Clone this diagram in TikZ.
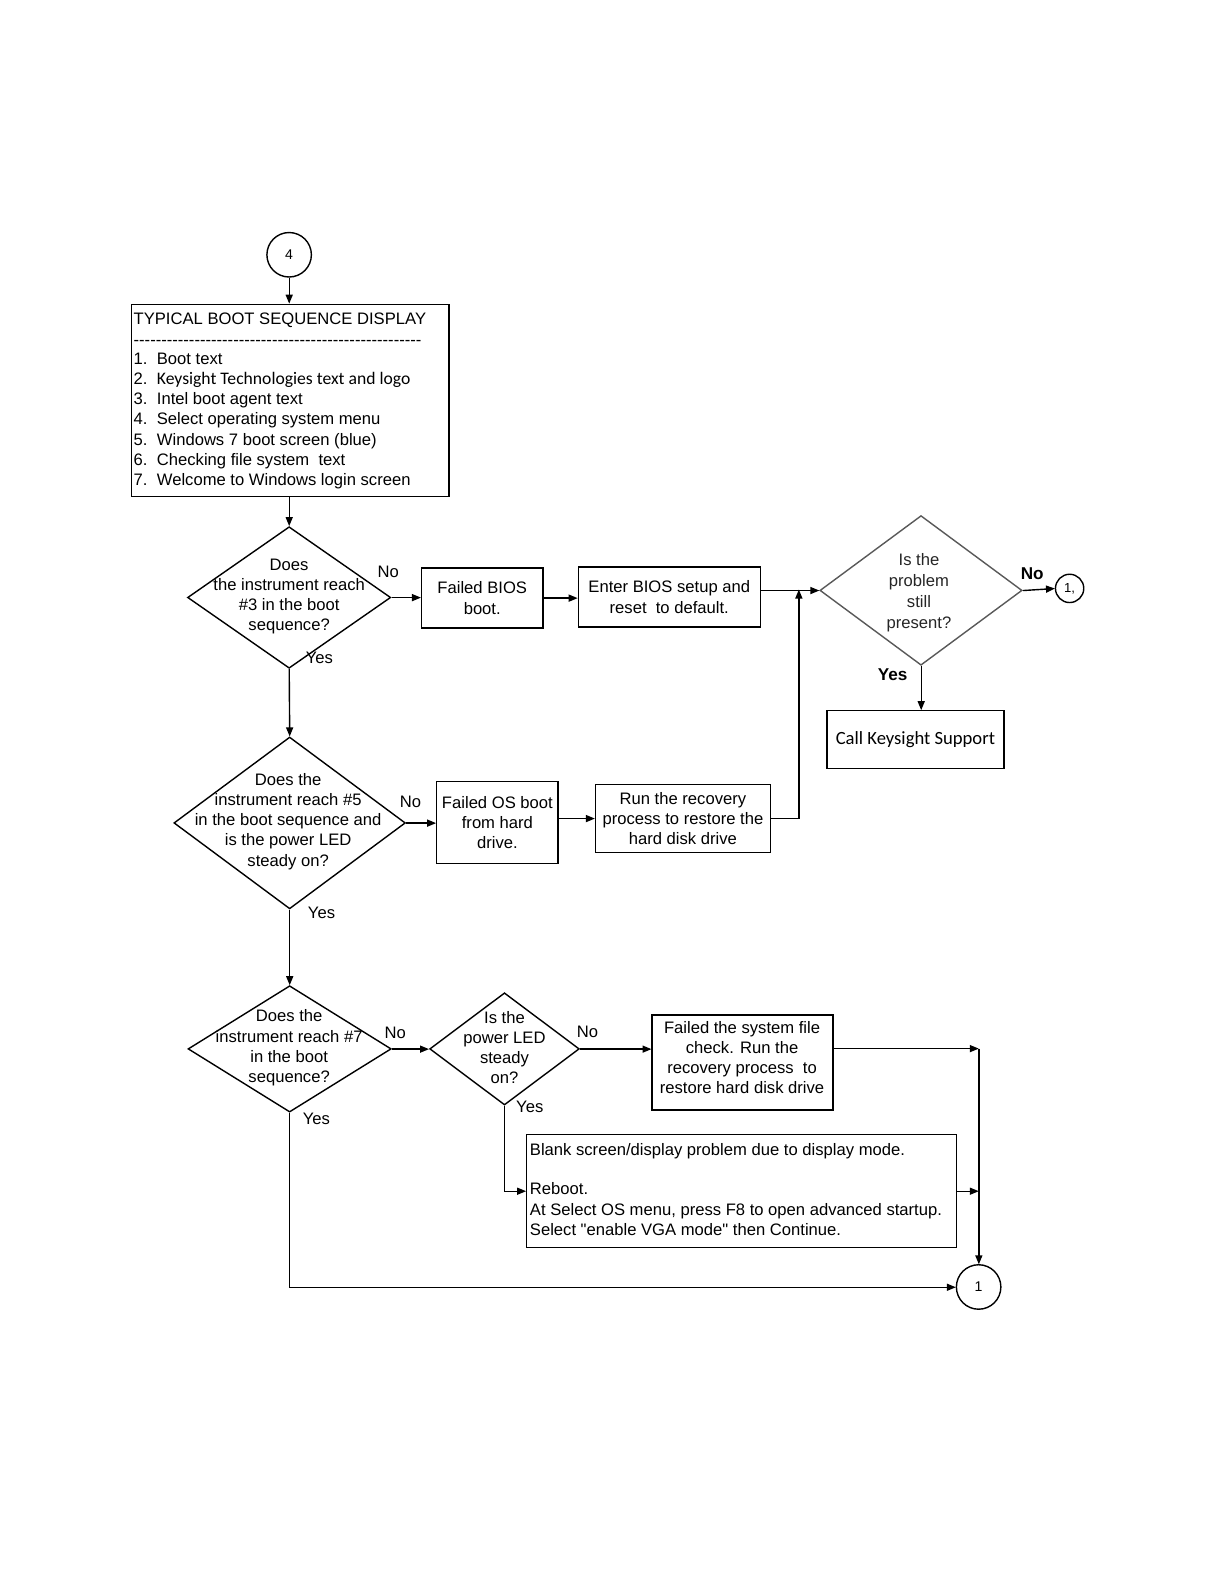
\documentclass[tikz,border=0pt]{standalone}
\usepackage{fontspec}
\setmainfont{Liberation Sans}[Ligatures=TeXOff]
\newfontfamily\calib{Carlito}
\usetikzlibrary{shapes.geometric,arrows.meta}
\newcount\hcnt
\newcommand\hrow[1]{\hcnt=0 \loop -{}\advance\hcnt 1 \ifnum\hcnt<#1 \repeat}
\newcommand\itm[2]{\makebox[23bp][l]{#1}#2}
\begin{document}
\begin{tikzpicture}[x=1bp,y=-1bp,scale=1.011,transform shape,
  every node/.style={font=\fontsize{16.5}{20}\selectfont},
  box/.style={draw, line width=1.4bp, inner sep=0pt, align=center},
  dia/.style={draw, diamond, line width=1.4bp, inner sep=0pt},
  circ/.style={draw, circle, line width=1.4bp, inner sep=0pt},
  txt/.style={align=center, inner sep=0pt},
  lab/.style={inner sep=0pt},
  arr/.style={line width=1.4bp, -{Triangle[length=9bp,width=7bp]}}
]
\fill[white] (0,0) rectangle (1210.7,1566.8);
\useasboundingbox (0,0) rectangle (1210.7,1566.8);

% connector 4 and top box
\node[circ, minimum size=44bp] (c4) at (286,252) {\fontsize{14}{16}\selectfont 4};
\node[box, minimum width=314bp, minimum height=190bp] (top) at (287,396) {};
\node[anchor=north west, align=left, inner sep=0pt] (toptext) at (132,309) {TYPICAL BOOT SEQUENCE DISPLAY\\[1pt]
\hrow{52}\\[-1pt]
\itm{1.}{Boot text}\\
\itm{2.}{{\calib\fontsize{17.5}{20}\selectfont Keysight Technologies text and logo}}\\
\itm{3.}{Intel boot agent text}\\
\itm{4.}{Select operating system menu}\\
\itm{5.}{Windows 7 boot screen (blue)}\\
\itm{6.}{Checking file system\ \ text}\\
\itm{7.}{Welcome to Windows login screen}};

% row 1
\node[dia, minimum width=201bp, minimum height=140bp] (d1) at (286,591) {};
\node[txt] at (286,590) {Does\\the instrument reach\\\#3 in the boot\\sequence?};
\node[box, minimum width=120bp, minimum height=59bp] (fb) at (477,591.5) {Failed BIOS\\boot.};
\node[box, minimum width=180bp, minimum height=59bp] (eb) at (662,590.5) {Enter BIOS setup and\\reset\ \ to default.};
\node[dia, draw=black!65, minimum width=200bp, minimum height=148bp] (d3) at (911,584) {};
\node[txt, text=black!85] at (909,586) {Is the\\[1pt]problem\\[1pt]still\\[1pt]present?};
\node[circ, minimum size=28bp] (c1a) at (1058,582) {\fontsize{13}{15}\selectfont 1,};
\node[box, minimum width=175bp, minimum height=57bp] (ks) at (905.5,731.5) {\calib\fontsize{18.5}{20}\selectfont Call Keysight Support};

% row 2
\node[dia, minimum width=229bp, minimum height=170bp] (d2) at (286.5,814) {};
\node[txt] at (285,812.5) {Does the\\instrument reach \#5\\in the boot sequence and\\is the power LED\\steady on?};
\node[box, minimum width=120bp, minimum height=81bp] (fo) at (492,813.5) {Failed OS boot\\from hard\\drive.};
\node[box, minimum width=173bp, minimum height=67bp] (rr) at (675.5,809.5) {Run the recovery\\process to restore the\\hard disk drive};
\coordinate (j1) at (790,583);

% row 3
\node[dia, minimum width=201bp, minimum height=125bp] (d4) at (286.5,1037.5) {};
\node[txt] at (286,1036.5) {Does the\\instrument reach \#7\\in the boot\\sequence?};
\node[dia, minimum width=148bp, minimum height=111bp] (d5) at (499,1037.5) {};
\node[txt] at (499,1036) {Is the\\power LED\\steady\\on?};
\node[box, minimum width=179bp, minimum height=94bp] (fs) at (734.5,1051) {};
\node[txt] (fstext) at (734,1046) {Failed the system file\\check. Run the\\recovery process\ \ to\\restore hard disk drive};
\node[box, minimum width=425bp, minimum height=112bp] (bs) at (733.5,1178) {};
\node[anchor=north west, align=left, inner sep=0pt] (bstext) at (524,1131) {Blank screen/display problem due to display mode.\\[19pt]
Reboot.\\
At Select OS menu, press F8 to open advanced startup.\\
Select "enable VGA mode" then Continue.};
\node[circ, minimum size=44bp] (c1) at (968,1273) {\fontsize{14}{16}\selectfont 1};
\coordinate (j2) at (968,1037);
\coordinate (j3) at (968,1178);

% labels
\node[lab] (l1) at (384,566) {No};
\node[lab] (l2) at (316,651) {Yes};
\node[lab, font=\bfseries\fontsize{17}{20}\selectfont] (l3) at (1021,567) {No};
\node[lab, font=\bfseries\fontsize{17}{20}\selectfont] (l4) at (883,667) {Yes};
\node[lab] (l5) at (406,793) {No};
\node[lab] (l6) at (318,903) {Yes};
\node[lab] (l7) at (391,1022) {No};
\node[lab] (l8) at (313,1107) {Yes};
\node[lab] (l9) at (581,1021) {No};
\node[lab] (l10) at (524,1095) {Yes};

% connectors
\draw[arr] (c4.south) -- (c4.south |- top.north);
\draw[arr] (d1.north |- top.south) -- (d1.north);
\draw[arr] (d1.east) -- (d1.east -| fb.west);
\draw[arr] (fb.east) -- (fb.east -| eb.west);
\draw[arr] (eb.east |- d3.west) -- (d3.west);
\draw[arr] (d3.east) -- (c1a.west);
\draw[arr] (d3.south) -- (d3.south |- ks.north);
\draw[arr] (d1.south) -- (d2.north);
\draw[arr] (d2.east) -- (d2.east -| fo.west);
\draw[arr] (fo.east |- rr.west) -- (rr.west);
\draw[arr] (rr.east) -| (j1);
\draw[arr] (d2.south) -- (d4.north);
\draw[arr] (d4.east) -- (d5.west);
\draw[arr] (d5.east) -- (d5.east -| fs.west);
\draw[arr] (fs.east |- j2) -- (j2);
\draw[arr] (j2) -- (c1.north);
\draw[arr] (bs.east) -- (j3);
\draw[arr] (d5.south) |- (bs.west);
\draw[arr] (d4.south) |- (c1.west);
\end{tikzpicture}
\end{document}
